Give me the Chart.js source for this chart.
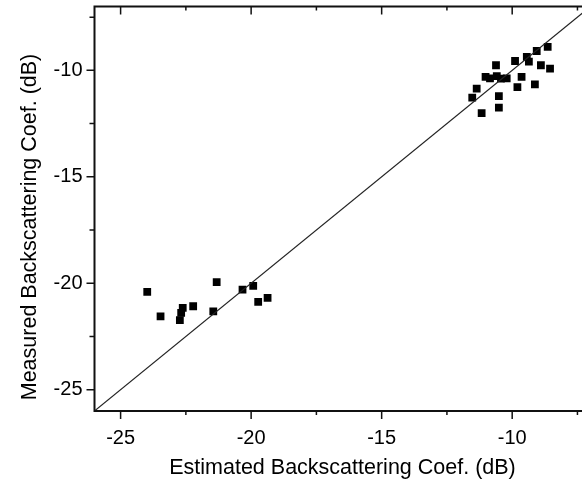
<!DOCTYPE html>
<html>
<head>
<meta charset="utf-8">
<script src="https://cdn.jsdelivr.net/npm/chart.js@4/dist/chart.umd.min.js"></script>
<style>
  html, body { margin: 0; padding: 0; background: #fff; overflow: hidden; }
  #wrap { width: 600px; height: 483px; }
</style>
</head>
<body>
<div id="wrap"><canvas id="chart" width="600" height="483"></canvas></div>
<script>
// estimated vs measured backscattering (dB)
const estimated = [
  -23.98, -23.47, -22.73, -22.68, -22.62, -22.22, -21.32, -21.45, -20.33, -19.92, -19.73, -19.37,
  -8.64, -9.06, -9.44, -9.36, -9.89, -8.90, -8.55, -10.62, -11.02, -10.85, -10.59, -10.43,
  -10.21, -9.64, -9.80, -9.13, -11.36, -11.53, -10.51, -10.51, -11.17
];
const measured = [
  -20.40, -21.56, -21.73, -21.39, -21.16, -21.08, -19.95, -21.32, -20.30, -20.12, -20.87, -20.69,
  -8.90, -9.09, -9.37, -9.59, -9.56, -9.76, -9.92, -9.76, -10.31, -10.38, -10.27, -10.39,
  -10.38, -10.31, -10.79, -10.66, -10.86, -11.28, -11.21, -11.75, -12.01
];

// 1:1 reference line
const lineX = [-26, -7];
const lineY = [-26, -7];

// axis ticks
const majorTicks = [-25, -20, -15, -10];
const minorTicks = [-22.5, -17.5, -12.5, -7.5];
const axisMin = -26;
const axisMax = -7;

const xTitle = "Estimated Backscattering Coef. (dB)";
const yTitle = "Measured Backscattering Coef. (dB)";

const FONT = "'Liberation Sans', Arial, sans-serif";

// frame, Origin-style ticks and the y title
const framePlugin = {
  id: "frame",
  afterDraw(chart) {
    const ctx = chart.ctx;
    const a = chart.chartArea;
    const xs = chart.scales.x, ys = chart.scales.y;
    ctx.save();
    ctx.strokeStyle = "#111";
    ctx.lineWidth = 2;
    ctx.strokeRect(a.left, a.top, a.right - a.left, a.bottom - a.top);

    ctx.lineWidth = 1.5;
    ctx.beginPath();
    const tickX = (v, len) => {
      const px = xs.getPixelForValue(v);
      ctx.moveTo(px, a.bottom); ctx.lineTo(px, a.bottom + len);
      ctx.moveTo(px, a.top); ctx.lineTo(px, a.top + len);
    };
    const tickY = (v, len) => {
      const py = ys.getPixelForValue(v);
      ctx.moveTo(a.left, py); ctx.lineTo(a.left - len, py);
      ctx.moveTo(a.right, py); ctx.lineTo(a.right - len, py);
    };
    majorTicks.forEach(v => { tickX(v, 8); tickY(v, 8); });
    minorTicks.forEach(v => { tickX(v, 4); tickY(v, 5); });
    ctx.stroke();

    // y axis title, a bit below the axis centre like the original
    ctx.fillStyle = "#000";
    ctx.font = "21.5px " + FONT;
    ctx.textAlign = "center";
    ctx.textBaseline = "middle";
    ctx.translate(30, 227);
    ctx.rotate(-Math.PI / 2);
    ctx.fillText(yTitle, 0, 0);
    ctx.restore();
  }
};

new Chart(document.getElementById("chart"), {
  type: "scatter",
  data: {
    datasets: [
      {
        label: "1:1",
        type: "line",
        data: lineX.map((x, i) => ({ x: x, y: lineY[i] })),
        borderColor: "#222",
        borderWidth: 1.1,
        pointRadius: 0,
        fill: false
      },
      {
        label: "data",
        data: estimated.map((x, i) => ({ x: x, y: measured[i] })),
        backgroundColor: "#000",
        borderColor: "#000",
        borderWidth: 0,
        pointStyle: "rect",
        pointRadius: 5.5,
        pointHoverRadius: 5.5
      }
    ]
  },
  options: {
    responsive: false,
    animation: false,
    layout: { padding: { top: 6.5, right: 9.5, left: 0, bottom: 0 } },
    plugins: { legend: { display: false }, tooltip: { enabled: false } },
    scales: {
      x: {
        type: "linear",
        min: axisMin,
        max: axisMax,
        afterBuildTicks: s => { s.ticks = majorTicks.map(v => ({ value: v })); },
        afterFit: s => { s.height = 72; s.paddingLeft = 0; s.paddingRight = 0; },
        grid: { display: false, drawTicks: false },
        border: { display: false },
        ticks: { color: "#000", padding: 15, font: { family: FONT, size: 20 } },
        title: {
          display: true,
          text: xTitle,
          color: "#000",
          font: { family: FONT, size: 21.5 },
          padding: { top: 0, bottom: 2 }
        }
      },
      y: {
        type: "linear",
        min: axisMin,
        max: axisMax,
        afterBuildTicks: s => { s.ticks = majorTicks.map(v => ({ value: v })); },
        afterFit: s => { s.width = 94.5; s.paddingTop = 0; s.paddingBottom = 0; },
        grid: { display: false, drawTicks: false },
        border: { display: false },
        ticks: { color: "#000", padding: 12, font: { family: FONT, size: 20 } }
      }
    }
  },
  plugins: [framePlugin]
});
</script>
</body>
</html>
